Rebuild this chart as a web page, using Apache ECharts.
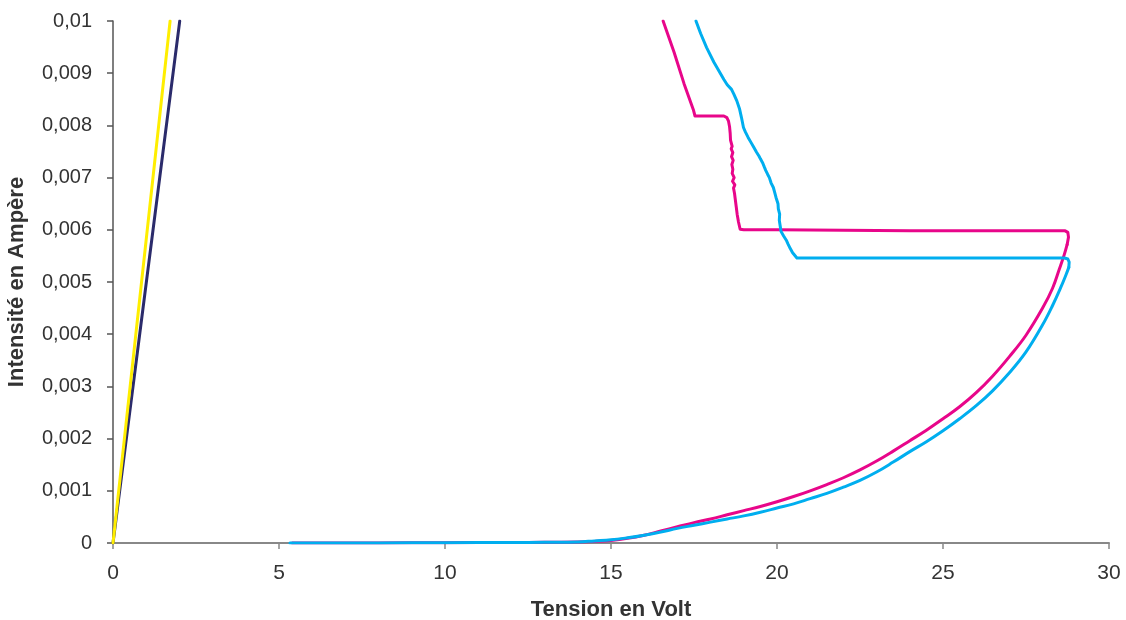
<!DOCTYPE html>
<html>
<head>
<meta charset="utf-8">
<script src="https://cdn.jsdelivr.net/npm/echarts@6/dist/echarts.min.js"></script>
<style>
html,body{margin:0;padding:0;background:#fff;}
#chart{width:1126px;height:620px;}
</style>
</head>
<body>
<div id="chart"></div>
<script>
// Tick settings
const xTicks = [0, 5, 10, 15, 20, 25, 30];
const yTicks = [0, 0.001, 0.002, 0.003, 0.004, 0.005, 0.006, 0.007, 0.008, 0.009, 0.01];

// Series: [tension (V), intensité (A)]
const navyLine = [[0, 0], [2.01, 0.01]];
const yellowLine = [[0, 0], [1.72, 0.01]];

// magenta: rising branch (smooth curve)
const magentaRise = [
  [5.4, 0], [8, 0.000002], [10, 0.000005], [12, 0.00001], [13, 0.000014], [14, 0.00002],
  [14.5, 0.00003], [15, 0.00005], [15.5, 0.00009], [16, 0.00015], [16.5, 0.00023],
  [17, 0.00031], [17.5, 0.00039], [18, 0.00046], [18.5, 0.00054], [19, 0.00062],
  [19.5, 0.0007], [20, 0.00079], [20.5, 0.00089], [21, 0.001], [21.5, 0.00112],
  [22, 0.00125], [22.5, 0.0014], [23, 0.00157], [23.5, 0.00176], [24, 0.00196],
  [24.5, 0.00216], [25, 0.00238], [25.5, 0.00261], [26, 0.00288], [26.5, 0.0032],
  [27, 0.00357], [27.5, 0.00398], [28, 0.0045], [28.3, 0.00488], [28.5, 0.00524],
  [28.65, 0.00552], [28.74, 0.00572]
];
// magenta: return branch
const magentaReturn = [
  [28.74, 0.00572], [28.78, 0.00586], [28.76, 0.00595], [28.68, 0.00598],
  [28.4, 0.00598], [26, 0.00598], [24, 0.00598], [22, 0.00599], [20, 0.006], [19, 0.006],
  [18.89, 0.00601], [18.84, 0.00615], [18.8, 0.0063], [18.77, 0.00645], [18.74, 0.0066],
  [18.72, 0.0067], [18.69, 0.0068], [18.73, 0.00686], [18.66, 0.00693], [18.71, 0.007],
  [18.65, 0.00708], [18.67, 0.00716], [18.64, 0.00725], [18.68, 0.00733], [18.63, 0.0074],
  [18.67, 0.00748], [18.62, 0.00755], [18.65, 0.0076], [18.6, 0.00772], [18.59, 0.00785],
  [18.57, 0.00798], [18.54, 0.00808], [18.49, 0.00815], [18.4, 0.00818], [17.53, 0.00818],
  [17.48, 0.0083], [17.2, 0.0088], [16.9, 0.0094], [16.57, 0.01]
];

// cyan: rising branch (smooth curve)
const cyanRise = [
  [5.33, 0], [8, 0.000002], [10, 0.000005], [12, 0.00001], [13, 0.000014], [14, 0.00002],
  [14.5, 0.00004], [15, 0.00006], [15.5, 0.0001], [16, 0.00015], [16.5, 0.00021],
  [17, 0.00028], [17.5, 0.00034], [18, 0.0004], [18.5, 0.00046], [19, 0.00052],
  [19.5, 0.00059], [20, 0.00067], [20.5, 0.00075], [21, 0.00085], [21.5, 0.00095],
  [22, 0.00107], [22.5, 0.0012], [23, 0.00136], [23.5, 0.00155], [24, 0.00175],
  [24.5, 0.00194], [25, 0.00215], [25.5, 0.00238], [26, 0.00263], [26.5, 0.00292],
  [27, 0.00326], [27.5, 0.00366], [28, 0.00418], [28.3, 0.00455], [28.55, 0.0049],
  [28.7, 0.00513], [28.79, 0.00528]
];
// cyan: return branch
const cyanReturn = [
  [28.79, 0.00528], [28.8, 0.00538], [28.76, 0.00544], [28.66, 0.00546],
  [28.4, 0.00546], [26, 0.00546], [24, 0.00546], [22, 0.00546], [20.6, 0.00546],
  [20.54, 0.00548], [20.47, 0.00556], [20.4, 0.00564], [20.33, 0.00573], [20.28, 0.0058],
  [20.2, 0.00588], [20.12, 0.00597], [20.1, 0.00606], [20.07, 0.00618], [20.08, 0.0063],
  [20.04, 0.0064], [20.03, 0.0065], [19.97, 0.00662], [19.92, 0.00674], [19.89, 0.00681],
  [19.82, 0.0069], [19.77, 0.007], [19.72, 0.00706], [19.66, 0.00714], [19.62, 0.0072],
  [19.57, 0.00728], [19.5, 0.00736], [19.46, 0.00741], [19.38, 0.00749], [19.3, 0.00758],
  [19.22, 0.00767], [19.13, 0.00777], [19.05, 0.00787], [18.99, 0.00796], [18.93, 0.00815],
  [18.87, 0.00832], [18.79, 0.00847], [18.7, 0.0086], [18.63, 0.00869], [18.5, 0.00878],
  [18.4, 0.00888], [18.3, 0.00899], [18.1, 0.00921], [17.88, 0.00949], [17.7, 0.00976],
  [17.56, 0.01]
];

const FONT = '"Liberation Sans", Arial, sans-serif';
const chart = echarts.init(document.getElementById('chart'), null, {renderer: 'canvas'});

function lineSeries(data, color, width, smooth) {
  return {
    type: 'line',
    data: data,
    showSymbol: false,
    symbol: 'none',
    smooth: smooth,
    clip: true,
    animation: false,
    lineStyle: {color: color, width: width, cap: 'round', join: 'round'},
    emphasis: {disabled: true}
  };
}

chart.setOption({
  animation: false,
  backgroundColor: '#ffffff',
  textStyle: {fontFamily: FONT},
  grid: {left: 113, right: 17, top: 21, bottom: 77, containLabel: false, outerBoundsMode: 'none'},
  xAxis: {
    type: 'value',
    min: xTicks[0],
    max: xTicks[xTicks.length - 1],
    interval: 5,
    name: 'Tension en Volt',
    nameLocation: 'middle',
    nameGap: 56,
    nameTextStyle: {fontSize: 22, fontWeight: 'bold', color: '#333', fontFamily: FONT},
    axisLine: {show: true, onZero: false, lineStyle: {color: '#888', width: 2}},
    axisTick: {show: true, length: 6, lineStyle: {color: '#888', width: 1.5}},
    axisLabel: {fontSize: 21, color: '#333', margin: 20, fontFamily: FONT},
    splitLine: {show: false}
  },
  yAxis: {
    type: 'value',
    min: yTicks[0],
    max: yTicks[yTicks.length - 1],
    interval: 0.001,
    name: 'Intensité en Ampère',
    nameLocation: 'middle',
    nameGap: 85,
    nameRotate: 90,
    nameTextStyle: {fontSize: 22, fontWeight: 'bold', color: '#333', fontFamily: FONT},
    axisLine: {show: true, onZero: false, lineStyle: {color: '#555', width: 1.5}},
    axisTick: {show: true, length: 6, lineStyle: {color: '#555', width: 1.5}},
    axisLabel: {
      fontSize: 20, color: '#333', margin: 21,
      fontFamily: FONT,
      formatter: function (v) {
        if (v === 0) return '0';
        return (Math.round(v * 1000) / 1000).toString().replace('.', ',');
      }
    },
    splitLine: {show: false}
  },
  series: [
    lineSeries(navyLine, '#2b2b6b', 3, false),
    lineSeries(yellowLine, '#ffee00', 3, false),
    lineSeries(magentaRise, '#e8068a', 3, 0.4),
    lineSeries(magentaReturn, '#e8068a', 3, false),
    lineSeries(cyanRise, '#00aeef', 3, 0.4),
    lineSeries(cyanReturn, '#00aeef', 3, false)
  ]
});
</script>
</body>
</html>
